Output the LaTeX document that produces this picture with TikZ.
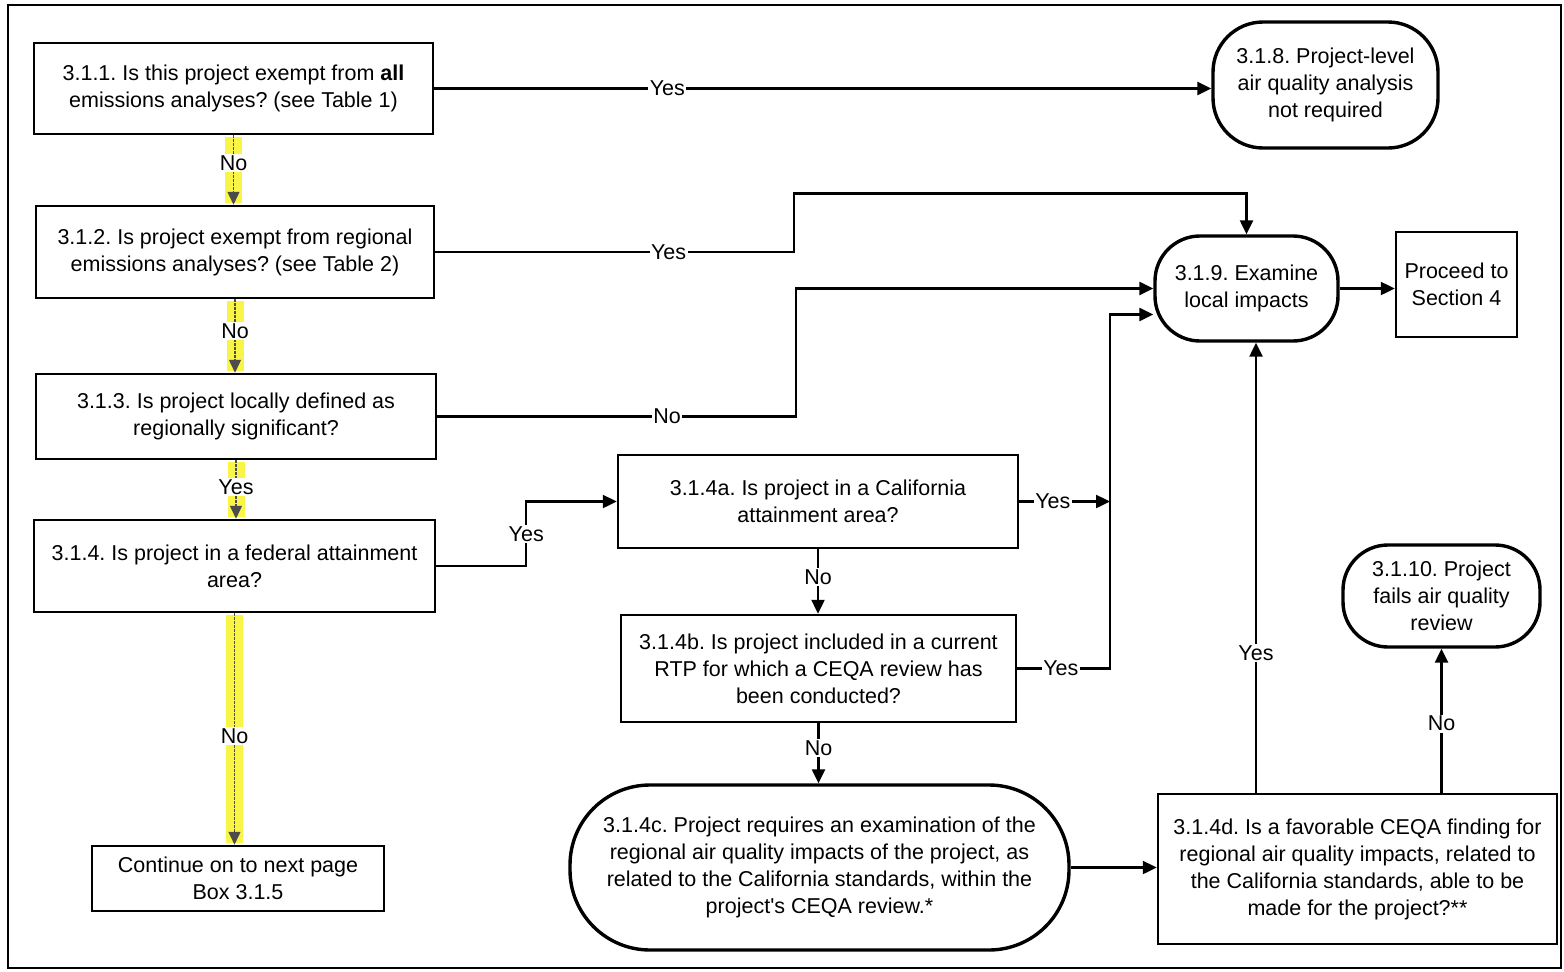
\documentclass[tikz,border=0pt]{standalone}
\usepackage{fontspec}
\setmainfont{Liberation Sans}[Ligatures=TeXOff]
\usepackage{xcolor}
\usetikzlibrary{arrows.meta,positioning,calc}
\frenchspacing

\definecolor{hlyellow}{RGB}{248,245,70}
\tikzset{
  qbox/.style={draw, line width=2.5pt, align=center, inner sep=2pt},
  endbox/.style={draw, line width=3.4pt, rounded corners=45pt, align=center, inner sep=2pt},
  conn/.style={line width=2.4pt},
  arr/.style={conn, -{Triangle[length=14pt,width=13pt]}},
  lbl/.style={fill=white, inner sep=1.5pt},
  hilite/.style={draw=hlyellow, line width=17pt, shorten <=1.5pt, shorten >=1.5pt},
  yarr/.style={line width=1.4pt, black!70, dash pattern=on 3pt off 1pt, -{Triangle[length=13pt,width=12pt]}}
}

\begin{document}
\begin{tikzpicture}[x=1pt, y=-1pt, font=\fontsize{21.5}{27}\selectfont]
    \useasboundingbox (0,0) rectangle (1564,972);
    \draw[line width=1.6pt] (8,5) rectangle (1561,968);

    % Left column
    \node[qbox, minimum width=399pt, minimum height=91pt] (q1) at (233.5,88.5) {3.1.1. Is this project exempt from \textbf{all}\\emissions analyses? (see Table 1)};
    \node[qbox, minimum width=398pt, minimum height=92pt] (q2) at (235,252) {3.1.2. Is project exempt from regional\\emissions analyses? (see Table 2)};
    \node[qbox, minimum width=400pt, minimum height=85pt] (q3) at (236,416.5) {3.1.3. Is project locally defined as\\regionally significant?};
    \node[qbox, minimum width=401pt, minimum height=92pt] (q4) at (234.5,566) {3.1.4. Is project in a federal attainment\\area?};
    \node[qbox, minimum width=292pt, minimum height=65pt] (next) at (238,878.5) {Continue on to next page\\Box 3.1.5};

    % Right column
    \node[endbox, rounded corners=50pt, minimum width=225pt, minimum height=126pt] (notreq) at (1325.5,85) {3.1.8. Project-level\\air quality analysis\\not required};
    \node[endbox, minimum width=183pt, minimum height=105pt] (local) at (1246.5,288.5) {3.1.9. Examine\\local impacts};
    \node[qbox, minimum width=121pt, minimum height=105pt] (sec4) at (1456.5,284.5) {Proceed to\\Section 4};
    \node[endbox, minimum width=197pt, minimum height=102pt] (fails) at (1441.5,596) {3.1.10. Project\\fails air quality\\review};

    % California branch
    \node[qbox, minimum width=400pt, minimum height=93pt] (q4a) at (818,501.5) {3.1.4a. Is project in a California\\attainment area?};
    \node[qbox, minimum width=395pt, minimum height=107pt] (q4b) at (818.5,668.5) {3.1.4b. Is project included in a current\\RTP for which a CEQA review has\\been conducted?};
    \node[endbox, rounded corners=80pt, minimum width=499pt, minimum height=165pt] (q4c) at (819.5,867.5) {3.1.4c. Project requires an examination of the\\regional air quality impacts of the project, as\\related to the California standards, within the\\project's CEQA review.*};
    \node[qbox, minimum width=399pt, minimum height=150pt] (q4d) at (1357.5,869) {3.1.4d. Is a favorable CEQA finding for\\regional air quality impacts, related to\\the California standards, able to be\\made for the project?**};

    % Highlighted arrows
    \foreach \a/\b/\t/\p in {q1/q2/No/0.4, q2/q3/No/0.43, q3/q4/Yes/0.46, q4/next/No/0.53}{
        \draw[hilite] (\a.south) -- (\a.south |- \b.north);
        \draw[yarr] (\a.south) -- node[lbl, pos=\p, text=black]{\t} (\a.south |- \b.north);
    }

    % Connectors
    \draw[arr] (q1.east) -- node[lbl, pos=0.3]{Yes} (q1.east -| notreq.west);
    \draw[arr] (q2.east) -- node[lbl, pos=0.65]{Yes} ++(359,0) |- ([yshift=41pt]local.north) -- (local.north);
    \draw[arr] (q3.east) -- node[lbl, pos=0.64]{No} ++(359,0) |- (local.west);
    \draw[arr] (q4.east) -- ++(90,0) |- node[lbl, pos=0.25]{Yes} (q4a.west);
    \coordinate (rail) at (1110,501.5);
    \draw[arr] (q4a.east) -- node[lbl, pos=0.37]{Yes} (rail);
    \draw[arr] (q4b.east) -- node[lbl, pos=0.47]{Yes} (q4b.east -| rail) |- ([yshift=-26pt]local.west);
    \draw[arr] (q4a.south) -- node[lbl, pos=0.43]{No} (q4a.south |- q4b.north);
    \draw[arr] (q4b.south) -- node[lbl, pos=0.41]{No} (q4b.south |- q4c.north);
    \draw[arr] (q4c.east) -- (q4c.east -| q4d.west);
    \draw[arr] ([xshift=-101.5pt]q4d.north) -- node[lbl, pos=0.31]{Yes} ([xshift=-101.5pt]q4d.north |- local.south);
    \draw[arr] (q4d.north -| fails.south) -- node[lbl, pos=0.48]{No} (fails.south);
    \draw[arr] (local.east) -- (local.east -| sec4.west);
\end{tikzpicture}
\end{document}
